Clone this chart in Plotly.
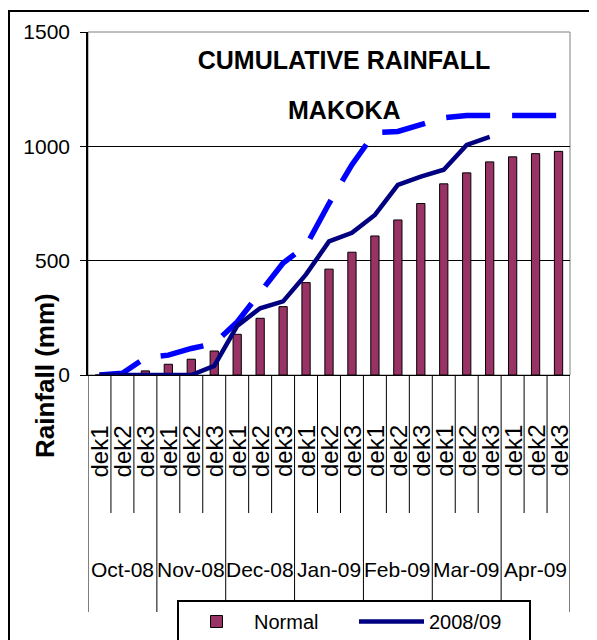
import plotly.graph_objects as go

# ---------------- data ----------------
months = ["Oct-08", "Nov-08", "Dec-08", "Jan-09", "Feb-09", "Mar-09", "Apr-09"]
dekads = ["dek1", "dek2", "dek3"]
normal = [0, 0, 18, 47, 69, 105, 178, 248, 299, 404, 463, 537, 608, 678, 750,
          836, 884, 932, 954, 968, 978]
season_0809 = [0, 0, 0, 0, 0, 40, 215, 292, 322, 440, 584, 622, 700, 831, 868,
               898, 1006, 1041, None, None, None]
series3 = [0, 8, 75, 87, 116, 138, 232, 361, 490, 565, 750, 920, 1060, 1065,
           1092, 1125, 1135, 1135, 1135, 1135, 1135]
y_ticks = [0, 500, 1000, 1500]

categories = [f"{m} {d}" for m in months for d in dekads]

# ---------------- layout geometry (page px) ----------------
W, H = 597, 640
OFF = 8                      # page body margin
PL, PR, PT, PB = 88, 570, 32, 375
pw, ph = PR - PL, PB - PT


def px_x(p):
    return (p - PL) / pw


def px_y(p):
    return (PB - p) / ph


FONT = "Arial, Liberation Sans, sans-serif"

fig = go.Figure()
fig.add_trace(go.Bar(
    x=categories, y=normal, name="Normal",
    marker=dict(color="#993366", line=dict(color="black", width=1)),
    width=0.36,
))
fig.add_trace(go.Scatter(
    x=categories, y=series3, name="Series3", mode="lines",
    line=dict(color="#0000FF", width=5.5, dash="44px,22px"),
    showlegend=False,
))
fig.add_trace(go.Scatter(
    x=categories, y=season_0809, name="2008/09", mode="lines",
    line=dict(color="#000080", width=4.5),
))

shapes = []
# plot-area border (grey)
shapes.append(dict(type="rect", xref="paper", yref="paper", x0=0, x1=1, y0=0, y1=1,
                   line=dict(color="#808080", width=1), layer="below"))
# outer chart border
shapes.append(dict(type="rect", xref="paper", yref="paper",
                   x0=px_x(9), x1=px_x(W + 40), y0=px_y(H + 40), y1=px_y(11),
                   line=dict(color="black", width=2), layer="below"))
# category dividers
n = len(categories)
for i in range(n + 1):
    is_month = (i % len(dekads) == 0)
    y_end = 612 if is_month else 513
    shapes.append(dict(type="line", xref="x", yref="paper", x0=i - 0.5, x1=i - 0.5,
                       y0=0, y1=px_y(y_end), line=dict(color="black", width=1)))

annotations = []
# dekad labels
for i, c in enumerate(categories):
    annotations.append(dict(x=i, y=px_y(451), xref="x", yref="paper",
                            text=dekads[i % 3], showarrow=False, textangle=-90,
                            xanchor="center", yanchor="middle",
                            font=dict(family=FONT, size=24, color="black")))
# month labels
for j, m in enumerate(months):
    annotations.append(dict(x=j * 3 + 1, y=px_y(569), xref="x", yref="paper",
                            text=m, showarrow=False,
                            xanchor="center", yanchor="middle",
                            font=dict(family=FONT, size=21, color="black")))
# y-axis title
annotations.append(dict(x=px_x(45), y=px_y(376), xref="paper", yref="paper",
                        text="<b>Rainfall (mm)</b>", showarrow=False, textangle=-90,
                        xanchor="center", yanchor="middle",
                        font=dict(family=FONT, size=26, color="black")))
# second title line
annotations.append(dict(x=px_x(344), y=px_y(110), xref="paper", yref="paper",
                        text="<b>MAKOKA</b>", showarrow=False,
                        xanchor="center", yanchor="middle",
                        font=dict(family=FONT, size=25, color="black")))

fig.update_layout(
    width=W, height=H, autosize=False,
    margin=dict(l=PL - OFF, r=W - (PR - OFF), t=PT - OFF, b=H - (PB - OFF), pad=0,
                autoexpand=False),
    paper_bgcolor="white", plot_bgcolor="white",
    title=dict(text="<b>CUMULATIVE RAINFALL</b>",
               x=(344 - OFF) / W, xref="container", xanchor="center",
               y=1 - (60 - OFF) / H, yref="container", yanchor="middle",
               font=dict(family=FONT, size=25, color="black")),
    bargap=0.6,
    showlegend=True,
    legend=dict(orientation="h", x=px_x(177), y=px_y(600), xref="paper", yref="paper",
                xanchor="left", yanchor="top",
                bgcolor="white", bordercolor="black", borderwidth=2,
                font=dict(family=FONT, size=20, color="black"),
                traceorder="normal", itemwidth=65,
                entrywidth=95, entrywidthmode="pixels"),
    xaxis=dict(type="category", categoryorder="array", categoryarray=categories,
               showticklabels=False, ticks="", showgrid=False,
               showline=True, linecolor="black", linewidth=1,
               range=[-0.5, n - 0.5], fixedrange=True),
    yaxis=dict(range=[0, 1500], tickvals=y_ticks, ticktext=[str(v) for v in y_ticks],
               showgrid=True, gridcolor="black", gridwidth=1,
               showline=True, linecolor="black", linewidth=1.5,
               ticks="outside", ticklen=6, tickcolor="black",
               ticklabelstandoff=6, zeroline=False,
               tickfont=dict(family=FONT, size=21, color="black"), fixedrange=True),
    shapes=shapes,
    annotations=annotations,
)

fig.write_html("out.html")
